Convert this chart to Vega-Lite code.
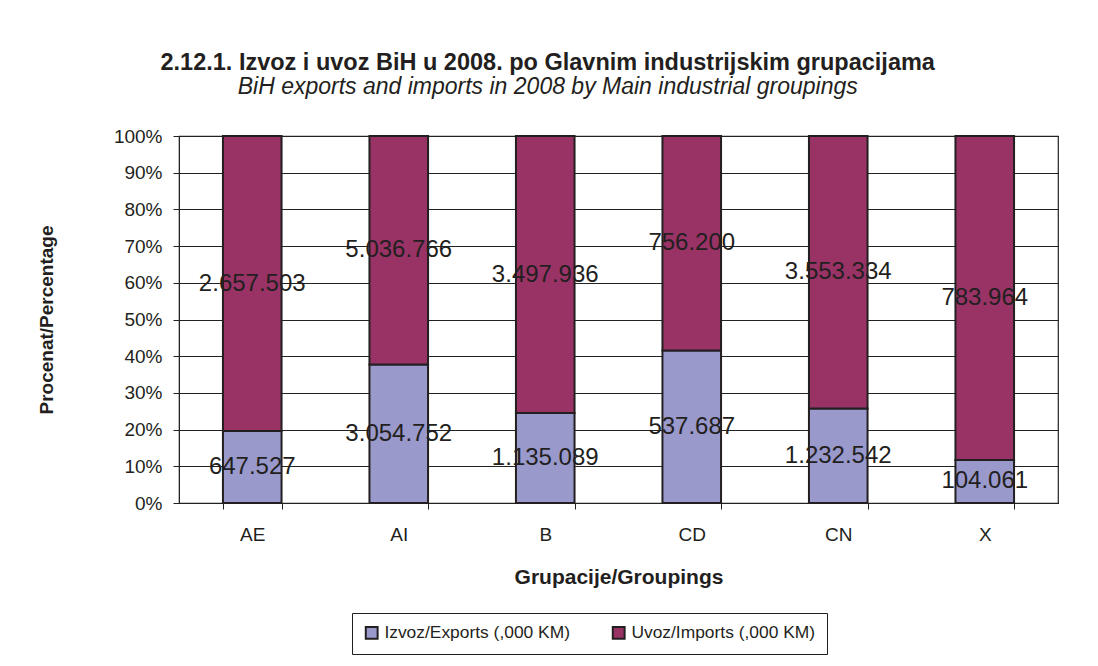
{
  "$schema": "https://vega.github.io/schema/vega-lite/v6.json",
  "width": 879,
  "height": 367,
  "padding": {"left": 37, "top": 50, "right": 5, "bottom": 5},
  "background": "white",
  "config": {
    "font": "Liberation Sans",
    "locale": {"number": {"decimal": ",", "thousands": ".", "grouping": [3], "currency": ["", ""]}},
    "view": {"stroke": "#222222", "strokeWidth": 1.2},
    "axisY": {
      "title": "Procenat/Percentage",
      "titleFontSize": 19,
      "titleFontWeight": "bold",
      "titleColor": "#231f20",
      "titlePadding": 57,
      "format": ".0%",
      "values": [0, 0.1, 0.2, 0.3, 0.4, 0.5, 0.6, 0.7, 0.8, 0.9, 1],
      "labelOverlap": false,
      "labelFontSize": 19,
      "labelColor": "#231f20",
      "labelPadding": 11,
      "tickSize": 6,
      "tickColor": "#222222",
      "domainColor": "#222222",
      "grid": true,
      "gridColor": "#222222",
      "gridWidth": 1
    }
  },
  "title": {
    "text": "2.12.1. Izvoz i uvoz BiH u 2008. po Glavnim industrijskim grupacijama",
    "subtitle": "BiH exports and imports in 2008 by Main industrial groupings",
    "fontSize": 23.5,
    "fontWeight": "bold",
    "color": "#231f20",
    "subtitleFontSize": 23,
    "subtitleFontStyle": "italic",
    "subtitleColor": "#231f20",
    "subtitlePadding": 2,
    "anchor": "middle",
    "frame": "bounds",
    "offset": 28
  },
  "data": {
    "values": [
      {"grupa": "AE", "serija": "Izvoz/Exports (,000 KM)", "vrijednost": 647527},
      {"grupa": "AE", "serija": "Uvoz/Imports (,000 KM)", "vrijednost": 2657503},
      {"grupa": "AI", "serija": "Izvoz/Exports (,000 KM)", "vrijednost": 3054752},
      {"grupa": "AI", "serija": "Uvoz/Imports (,000 KM)", "vrijednost": 5036766},
      {"grupa": "B", "serija": "Izvoz/Exports (,000 KM)", "vrijednost": 1135089},
      {"grupa": "B", "serija": "Uvoz/Imports (,000 KM)", "vrijednost": 3497936},
      {"grupa": "CD", "serija": "Izvoz/Exports (,000 KM)", "vrijednost": 537687},
      {"grupa": "CD", "serija": "Uvoz/Imports (,000 KM)", "vrijednost": 756200},
      {"grupa": "CN", "serija": "Izvoz/Exports (,000 KM)", "vrijednost": 1232542},
      {"grupa": "CN", "serija": "Uvoz/Imports (,000 KM)", "vrijednost": 3553334},
      {"grupa": "X", "serija": "Izvoz/Exports (,000 KM)", "vrijednost": 104061},
      {"grupa": "X", "serija": "Uvoz/Imports (,000 KM)", "vrijednost": 783964}
    ]
  },
  "encoding": {
    "x": {
      "field": "grupa",
      "type": "nominal",
      "scale": {"paddingInner": 0.6, "paddingOuter": 0.3},
      "axis": {
        "title": "Grupacije/Groupings",
        "titleFontSize": 21,
        "titleFontWeight": "bold",
        "titleColor": "#231f20",
        "titlePadding": 22,
        "labelAngle": 0,
        "labelFontSize": 19,
        "labelColor": "#231f20",
        "labelPadding": 16,
        "tickBand": "extent",
        "tickSize": 6,
        "tickColor": "#222222",
        "domainColor": "#222222",
        "grid": false
      }
    }
  },
  "layer": [
    {
      "mark": {"type": "bar", "stroke": "#231f20", "strokeWidth": 2},
      "encoding": {
        "y": {
          "field": "vrijednost",
          "type": "quantitative",
          "stack": "normalize",
          "scale": {"domain": [0, 1]},
          "axis": {"title": "Procenat/Percentage", "format": ".0%"}
        },
        "color": {
          "field": "serija",
          "type": "nominal",
          "scale": {"domain": ["Izvoz/Exports (,000 KM)", "Uvoz/Imports (,000 KM)"], "range": ["#9999cc", "#993366"]},
          "legend": {
            "title": null,
            "orient": "none",
            "direction": "horizontal",
            "legendX": 173,
            "legendY": 477,
            "symbolType": "square",
            "symbolSize": 140,
            "symbolStrokeColor": "#231f20",
            "symbolStrokeWidth": 2,
            "labelFontSize": 17.4,
            "labelLimit": 400,
            "labelColor": "#231f20",
            "labelOffset": 4,
            "columnPadding": 38,
            "strokeColor": "#231f20",
            "fillColor": "white",
            "padding": 11
          }
        },
        "order": {"field": "serija", "sort": "ascending"}
      }
    },
    {
      "mark": {"type": "text", "fontSize": 24, "color": "#231f20", "baseline": "middle"},
      "encoding": {
        "y": {"field": "vrijednost", "type": "quantitative", "stack": "normalize", "bandPosition": 0.5, "axis": {"title": "Procenat/Percentage", "format": ".0%"}},
        "text": {"field": "vrijednost", "type": "quantitative", "format": ",d"},
        "detail": {"field": "serija"},
        "order": {"field": "serija", "sort": "ascending"}
      }
    }
  ]
}
